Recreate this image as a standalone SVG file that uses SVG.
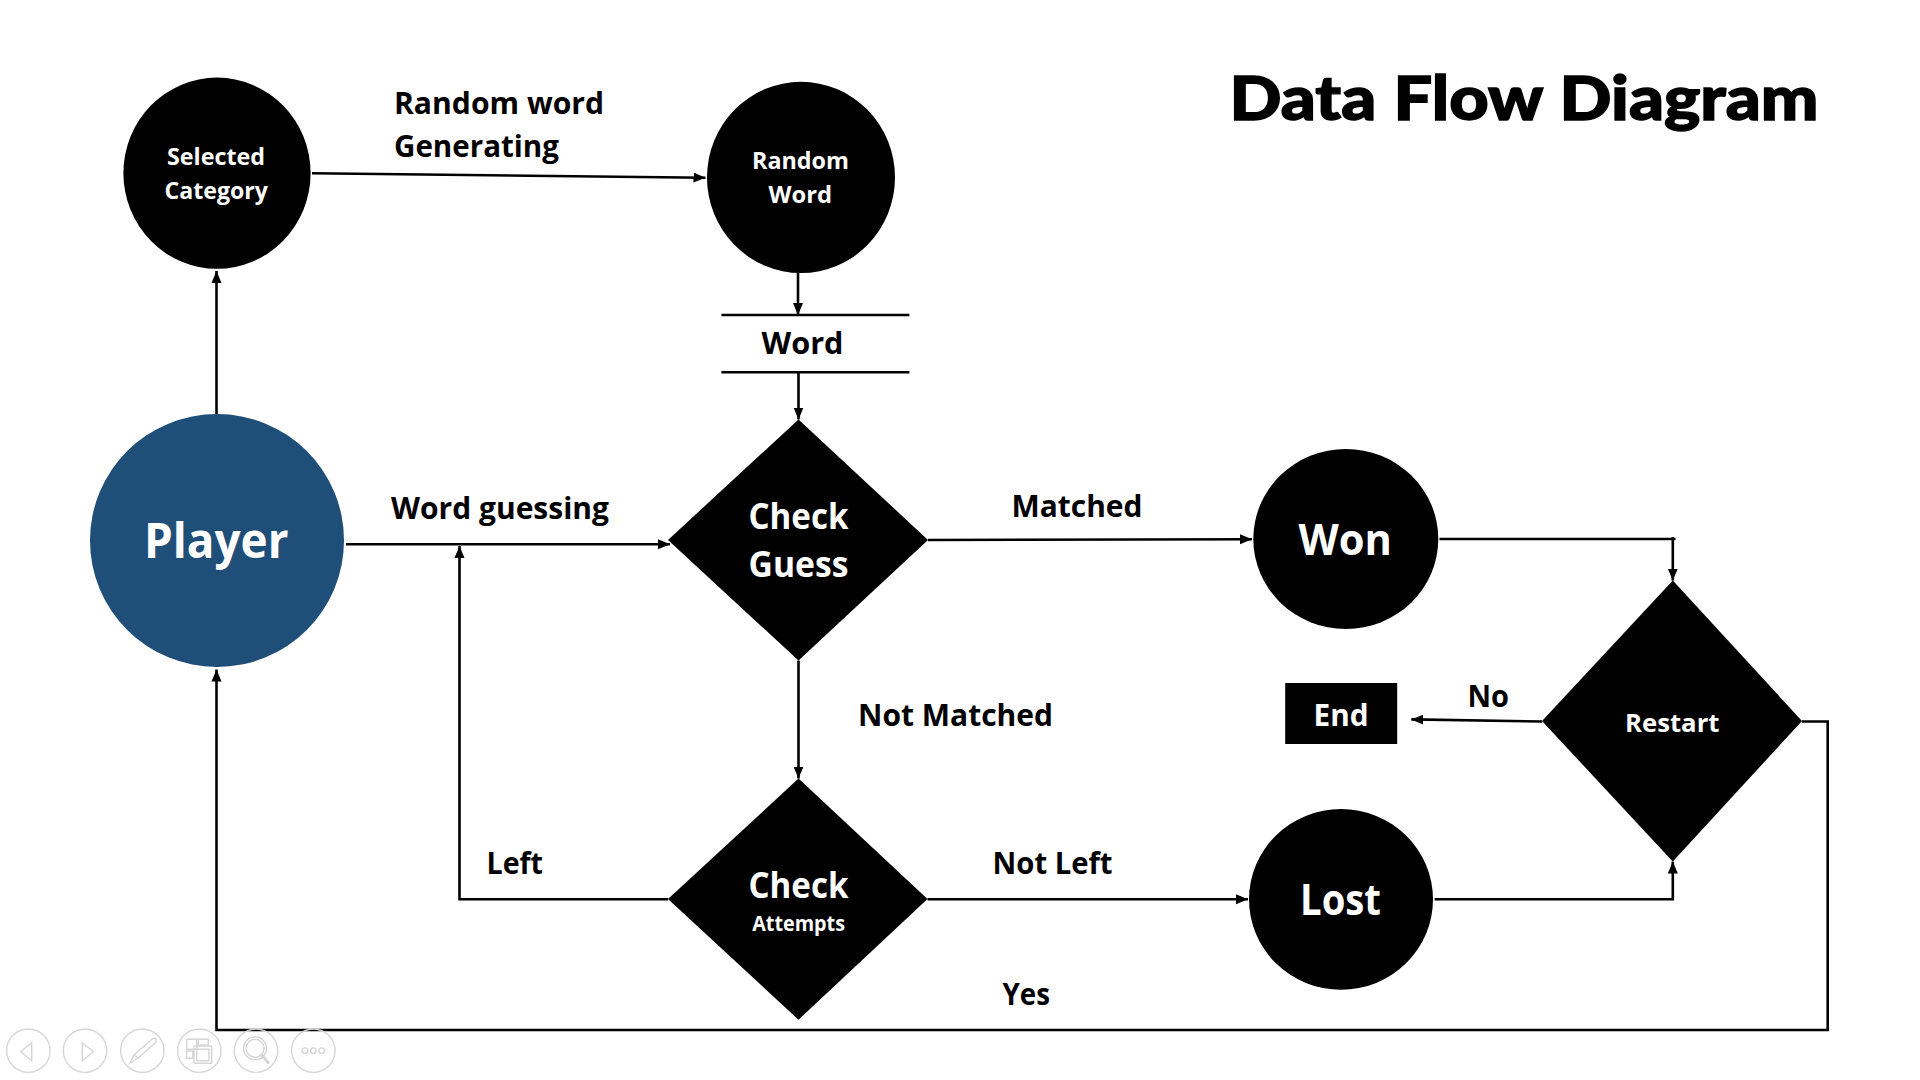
<svg xmlns="http://www.w3.org/2000/svg" width="1920" height="1080" viewBox="0 0 1920 1080">
<style>
text{font-family:"Open Sans","Noto Sans","Liberation Sans",sans-serif;font-weight:700;text-anchor:start}
.l{fill:#000;font-size:31px}
.w{fill:#fff}
.c{fill:none;stroke:#000;stroke-width:2.6}
.a{marker-end:url(#ah)}
.t{fill:none;stroke:#d6d6d6;stroke-width:1.4}
</style>
<defs>
<marker id="ah" viewBox="0 0 12 10" refX="12" refY="5" markerUnits="userSpaceOnUse" markerWidth="12" markerHeight="11" orient="auto"><path d="M0 0L12 5L0 10z" fill="#000"/></marker>
</defs>
<rect width="1920" height="1080" fill="#fff"/>
<g id="connectors">
<path class="c a" d="M312 173.2L705.5 177.7"/>
<path class="c a" d="M798 272.7V315"/>
<path class="c a" d="M798.5 372V419.5"/>
<path class="c a" d="M216.5 414V271"/>
<path class="c a" d="M346 544.3H670"/>
<path class="c a" d="M668 899.3H459.5V546"/>
<path class="c a" d="M798.5 660.5V778.6"/>
<path class="c a" d="M928 540L1252 539.3"/>
<path class="c" d="M1439.5 539H1675.5M1672.8 537V539"/>
<path class="c a" d="M1672.8 539V580.6"/>
<path class="c a" d="M927.5 899.3H1248"/>
<path class="c a" d="M1434.6 899.3H1672.8V861.5"/>
<path class="c a" d="M1542 721.5L1411.3 719.4"/>
<path class="c a" d="M1802 721.5H1827.7V1030H216.5V669.5"/>
<path class="c" d="M721.4 315H909.4M721.4 372.2H909.4"/>
</g>
<g id="selected-category"><ellipse cx="217" cy="173.2" rx="93.6" ry="95.6"/><text class="w" font-size="24" x="167" y="164.8" textLength="98" lengthAdjust="spacingAndGlyphs">Selected</text><text class="w" font-size="24" x="164.5" y="198.7" textLength="103.5" lengthAdjust="spacingAndGlyphs">Category</text></g>
<g id="random-word"><ellipse cx="801" cy="177.4" rx="94" ry="95.6"/><text class="w" font-size="24" x="752" y="168.9" textLength="97" lengthAdjust="spacingAndGlyphs">Random</text><text class="w" font-size="24" x="768.5" y="202.5" textLength="63.5" lengthAdjust="spacingAndGlyphs">Word</text></g>
<g id="word-store"><text class="l" x="761.5" y="354.2" textLength="82" lengthAdjust="spacingAndGlyphs">Word</text></g>
<g id="player"><ellipse cx="217" cy="540.5" rx="127" ry="126.5" fill="#1f4e79"/><text class="w" font-size="48" x="144" y="558" textLength="144.5" lengthAdjust="spacingAndGlyphs">Player</text></g>
<g id="check-guess"><path d="M798.5 419.4L928 540L798.5 660.5L668 540z"/><text class="w" font-size="35" x="748.5" y="529" textLength="100" lengthAdjust="spacingAndGlyphs">Check</text><text class="w" font-size="35" x="748.5" y="576.5" textLength="100" lengthAdjust="spacingAndGlyphs">Guess</text></g>
<g id="check-attempts"><path d="M798.5 778.6L927.5 899L798.5 1019.7L668 899z"/><text class="w" font-size="35" x="748.5" y="898" textLength="100" lengthAdjust="spacingAndGlyphs">Check</text><text class="w" font-size="21" x="752.2" y="931" textLength="92.8" lengthAdjust="spacingAndGlyphs">Attempts</text></g>
<g id="won"><ellipse cx="1345.8" cy="539" rx="92.5" ry="90"/><text class="w" font-size="43" x="1298.5" y="555" textLength="93.5" lengthAdjust="spacingAndGlyphs">Won</text></g>
<g id="lost"><ellipse cx="1341" cy="899.4" rx="92" ry="90.4"/><text class="w" font-size="43" x="1300" y="915" textLength="81" lengthAdjust="spacingAndGlyphs">Lost</text></g>
<g id="end"><rect x="1285.2" y="683" width="112" height="61"/><text class="w" font-size="31" x="1313.6" y="726" textLength="55" lengthAdjust="spacingAndGlyphs">End</text></g>
<g id="restart"><path d="M1672.8 580.6L1802 721L1672.8 861.5L1542 721z"/><text class="w" font-size="25" x="1625" y="732.4" textLength="94.5" lengthAdjust="spacingAndGlyphs">Restart</text></g>
<g id="labels">
<text class="l" x="394" y="114" textLength="210" lengthAdjust="spacingAndGlyphs">Random word</text>
<text class="l" x="394" y="156.6" textLength="165" lengthAdjust="spacingAndGlyphs">Generating</text>
<text class="l" x="391" y="518.6" textLength="218" lengthAdjust="spacingAndGlyphs">Word guessing</text>
<text class="l" x="1011.5" y="516.6" textLength="131" lengthAdjust="spacingAndGlyphs">Matched</text>
<text class="l" x="858" y="726.3" textLength="195" lengthAdjust="spacingAndGlyphs">Not Matched</text>
<text class="l" x="486.5" y="874" textLength="56.5" lengthAdjust="spacingAndGlyphs">Left</text>
<text class="l" x="992.5" y="874" textLength="120" lengthAdjust="spacingAndGlyphs">Not Left</text>
<text class="l" x="1467.5" y="707.3" textLength="41.5" lengthAdjust="spacingAndGlyphs">No</text>
<text class="l" x="1002.5" y="1004.8" textLength="47.5" lengthAdjust="spacingAndGlyphs">Yes</text>
<text style="font-family:Lato,'Liberation Sans',sans-serif;font-weight:900;font-size:60px;stroke:#000;stroke-width:1.4;word-spacing:1px" x="1229.5" y="120" textLength="589" lengthAdjust="spacingAndGlyphs">Data Flow Diagram</text>
</g>
<g id="toolbar">
<circle class="t" cx="28.3" cy="1050.7" r="21.7"/><path class="t" d="M31.7 1042.7L20.7 1051.7L31.7 1060.7z"/>
<circle class="t" cx="85" cy="1050.7" r="21.7"/><path class="t" d="M82.3 1042.7L93.3 1051.7L82.3 1060.7z"/>
<circle class="t" cx="142.3" cy="1050.7" r="21.7"/><path class="t" d="M151 1040Q154 1037 156 1039Q157 1042 154 1044L138 1058L134 1055zM134 1055L130 1063L138 1058"/>
<circle class="t" cx="199.3" cy="1050.7" r="21.7"/><path class="t" d="M186.7 1039.3H196.7V1049.3H186.7zM198.3 1039.3H208.3V1045H198.3zM186.7 1051H192.7V1058.3H186.7zM194 1046H211.7V1063.3H194zM196.7 1049.3H209V1060.7H196.7z"/>
<circle class="t" cx="256" cy="1050.7" r="21.7"/><circle class="t" cx="255" cy="1048.3" r="11.5"/><circle class="t" cx="255" cy="1048.3" r="9"/><path d="M261.7 1055L268.3 1062.7" fill="none" stroke="#d6d6d6" stroke-width="3" stroke-linecap="round"/>
<circle class="t" cx="313.3" cy="1050.7" r="21.7"/><circle class="t" cx="305" cy="1050.7" r="2.8"/><circle class="t" cx="313.3" cy="1050.7" r="2.8"/><circle class="t" cx="321.7" cy="1050.7" r="2.8"/>
</g>
</svg>
